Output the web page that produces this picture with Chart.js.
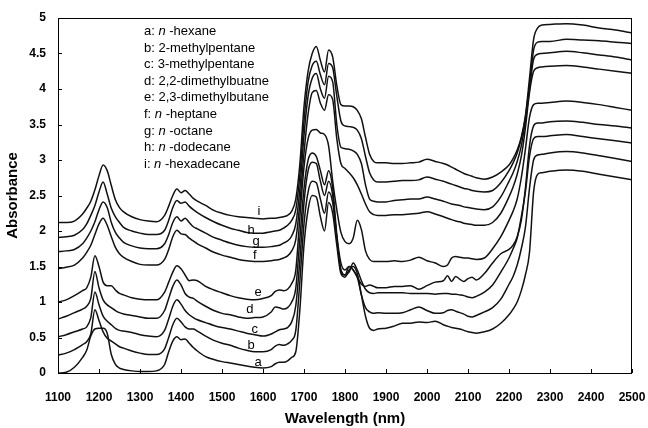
<!DOCTYPE html>
<html>
<head>
<meta charset="utf-8">
<script src="https://cdn.jsdelivr.net/npm/chart.js@4.4.1/dist/chart.umd.min.js"></script>
<style>
  html, body { margin: 0; padding: 0; background: #fff; }
  #wrap { width: 648px; height: 428px; }
</style>
</head>
<body>
<div id="wrap"><canvas id="spectra" width="648" height="428"></canvas></div>
<script>
// NIR absorbance spectra of C6-C16 alkanes, stacked with an offset per compound
const wavelength = [
  1100, 1120, 1140, 1160, 1170, 1180, 1190, 1200, 1210, 1220, 1230, 1240, 1250, 1260,
  1280, 1300, 1320, 1340, 1360, 1370, 1380, 1390, 1400, 1410, 1420, 1430, 1440,
  1460, 1480, 1500, 1520, 1540, 1560, 1580, 1600, 1620,
  1630, 1640, 1650, 1660, 1670, 1680, 1690, 1700, 1710, 1720, 1730, 1740, 1750, 1760, 1770, 1780,
  1790, 1800, 1810, 1820, 1830, 1840, 1850, 1860, 1870, 1880,
  1900, 1920, 1940, 1960, 1980, 2000, 2020, 2040, 2050, 2060, 2070, 2080, 2090, 2100, 2110, 2120,
  2140, 2160, 2180, 2200,
  2210, 2220, 2230, 2240, 2250, 2260, 2270, 2280,
  2300, 2340, 2380, 2420, 2460, 2500
];

const hexane = [
  0.00, 0.01, 0.08, 0.22, 0.32, 0.52, 0.62, 0.63, 0.63, 0.56, 0.26, 0.12, 0.07, 0.05,
  0.03, 0.02, 0.02, 0.03, 0.12, 0.30, 0.45, 0.51, 0.47, 0.48, 0.42, 0.36, 0.31,
  0.23, 0.19, 0.16, 0.14, 0.12, 0.10, 0.08, 0.07, 0.09,
  0.13, 0.15, 0.15, 0.17, 0.22, 0.30, 0.90, 1.80, 2.30, 2.50, 2.48, 2.20, 2.00, 2.40, 2.25, 1.80,
  1.40, 1.35, 1.45, 1.50, 1.40, 1.10, 0.80, 0.63, 0.60, 0.62,
  0.63, 0.66, 0.70, 0.70, 0.72, 0.71, 0.73, 0.68, 0.66, 0.64, 0.63, 0.62, 0.60, 0.58, 0.57, 0.56,
  0.58, 0.62, 0.70, 0.82,
  0.90, 1.00, 1.16, 1.38, 1.70, 2.55, 2.80, 2.82,
  2.84, 2.86, 2.84, 2.80, 2.76, 2.72
];
const methylpentane2 = [
  0.25, 0.28, 0.33, 0.40, 0.44, 0.55, 0.89, 0.74, 0.58, 0.49, 0.45, 0.41, 0.37, 0.35,
  0.31, 0.28, 0.26, 0.26, 0.34, 0.50, 0.68, 0.77, 0.72, 0.65, 0.62, 0.62, 0.59,
  0.52, 0.46, 0.42, 0.39, 0.35, 0.32, 0.30, 0.30, 0.33,
  0.38, 0.40, 0.39, 0.41, 0.46, 0.60, 1.30, 2.10, 2.55, 2.70, 2.68, 2.45, 2.25, 2.55, 2.40, 1.90,
  1.45, 1.38, 1.50, 1.45, 1.35, 1.10, 0.92, 0.86, 0.84, 0.85,
  0.84, 0.84, 0.85, 0.89, 0.93, 0.88, 0.84, 0.85, 0.88, 0.89, 0.87, 0.85, 0.83, 0.80, 0.79, 0.81,
  0.86, 0.92, 1.04, 1.25,
  1.36, 1.52, 1.75, 2.05, 2.60, 3.00, 3.07, 3.08,
  3.10, 3.12, 3.10, 3.06, 3.02, 2.98
];
const methylpentane3 = [
  0.51, 0.54, 0.58, 0.62, 0.65, 0.78, 1.14, 0.96, 0.80, 0.73, 0.68, 0.63, 0.60, 0.59,
  0.57, 0.54, 0.52, 0.51, 0.60, 0.76, 0.94, 1.03, 0.97, 0.88, 0.82, 0.78, 0.75,
  0.71, 0.67, 0.64, 0.62, 0.59, 0.56, 0.54, 0.52, 0.55,
  0.58, 0.61, 0.62, 0.64, 0.72, 0.95, 1.60, 2.40, 2.85, 2.97, 2.95, 2.70, 2.50, 2.70, 2.50, 1.90,
  1.45, 1.38, 1.42, 1.55, 1.45, 1.30, 1.18, 1.13, 1.12, 1.13,
  1.13, 1.13, 1.13, 1.12, 1.12, 1.12, 1.11, 1.12, 1.12, 1.11, 1.11, 1.10, 1.09, 1.07, 1.06, 1.08,
  1.14, 1.24, 1.42, 1.62,
  1.75, 1.90, 2.20, 2.55, 3.05, 3.30, 3.33, 3.33,
  3.34, 3.36, 3.33, 3.30, 3.27, 3.24
];
const dimethylbutane22 = [
  0.76, 0.80, 0.85, 0.90, 0.94, 1.05, 1.43, 1.20, 1.03, 0.96, 0.92, 0.88, 0.85, 0.83,
  0.81, 0.79, 0.77, 0.77, 0.88, 1.05, 1.22, 1.31, 1.24, 1.12, 1.07, 1.05, 1.01,
  0.94, 0.88, 0.84, 0.82, 0.79, 0.77, 0.78, 0.79, 0.86,
  0.93, 0.92, 0.90, 0.92, 1.00, 1.20, 1.90, 2.60, 3.00, 3.10, 3.05, 2.85, 2.65, 2.85, 2.60, 1.95,
  1.55, 1.45, 1.50, 1.45, 1.35, 1.25, 1.22, 1.24, 1.22, 1.20,
  1.20, 1.22, 1.22, 1.23, 1.18, 1.23, 1.28, 1.30, 1.37, 1.29, 1.36, 1.32, 1.29, 1.33, 1.35, 1.31,
  1.40, 1.55, 1.68, 1.74,
  1.80, 1.92, 2.15, 2.60, 3.20, 3.48, 3.52, 3.52,
  3.54, 3.55, 3.53, 3.50, 3.48, 3.45
];
const dimethylbutane23 = [
  1.00, 1.03, 1.09, 1.16, 1.20, 1.35, 1.65, 1.50, 1.28, 1.23, 1.23, 1.17, 1.12, 1.10,
  1.06, 1.04, 1.03, 1.03, 1.14, 1.28, 1.42, 1.51, 1.47, 1.38, 1.30, 1.31, 1.30,
  1.22, 1.17, 1.13, 1.09, 1.06, 1.04, 1.03, 1.05, 1.09,
  1.15, 1.17, 1.16, 1.18, 1.26, 1.45, 2.20, 2.90, 3.30, 3.42, 3.43, 3.38, 3.36, 3.20, 2.70, 2.30,
  1.98, 1.85, 1.82, 1.90, 2.15, 2.02, 1.72, 1.60, 1.57, 1.57,
  1.57, 1.58, 1.57, 1.59, 1.63, 1.58, 1.55, 1.50, 1.52, 1.62, 1.64, 1.63, 1.62, 1.62, 1.61, 1.60,
  1.62, 1.75, 1.92, 2.15,
  2.28, 2.45, 2.75, 3.15, 3.60, 3.78, 3.80, 3.80,
  3.81, 3.83, 3.81, 3.78, 3.74, 3.70
];
const heptane = [
  1.47, 1.49, 1.52, 1.62, 1.70, 1.80, 1.95, 2.10, 2.18, 2.08, 1.92, 1.77, 1.68, 1.63,
  1.57, 1.53, 1.52, 1.52, 1.60, 1.74, 1.92, 2.01, 1.96, 1.95, 1.90, 1.86, 1.82,
  1.76, 1.70, 1.66, 1.63, 1.60, 1.58, 1.57, 1.57, 1.58,
  1.59, 1.60, 1.62, 1.65, 1.72, 1.88, 2.40, 3.10, 3.65, 3.95, 3.98, 3.80, 3.70, 3.92, 3.85, 3.30,
  2.95, 2.88, 2.82, 2.75, 2.65, 2.52, 2.38, 2.27, 2.23, 2.22,
  2.22, 2.23, 2.23, 2.24, 2.25, 2.27, 2.24, 2.20, 2.18, 2.16, 2.14, 2.13, 2.11, 2.10, 2.09, 2.08,
  2.08, 2.12, 2.25, 2.48,
  2.62, 2.80, 3.05, 3.45, 3.95, 4.25, 4.30, 4.31,
  4.32, 4.33, 4.31, 4.28, 4.25, 4.22
];
const octane = [
  1.71, 1.72, 1.74, 1.82, 1.90, 2.00, 2.13, 2.30, 2.41, 2.33, 2.12, 1.98, 1.90, 1.84,
  1.79, 1.76, 1.75, 1.75, 1.82, 1.95, 2.12, 2.20, 2.14, 2.18, 2.12, 2.06, 2.03,
  1.97, 1.91, 1.87, 1.83, 1.80, 1.78, 1.77, 1.77, 1.78,
  1.79, 1.80, 1.83, 1.86, 1.93, 2.10, 2.60, 3.35, 3.90, 4.15, 4.22, 4.00, 3.87, 4.18, 4.10, 3.50,
  3.18, 3.16, 3.15, 3.13, 3.08, 2.95, 2.65, 2.45, 2.42, 2.41,
  2.41, 2.43, 2.44, 2.45, 2.45, 2.48, 2.45, 2.42, 2.40, 2.38, 2.37, 2.36, 2.34, 2.33, 2.32, 2.31,
  2.30, 2.34, 2.48, 2.70,
  2.82, 2.98, 3.20, 3.55, 4.00, 4.42, 4.49, 4.50,
  4.51, 4.53, 4.51, 4.48, 4.45, 4.41
];
const dodecane = [
  1.91, 1.92, 1.94, 2.02, 2.10, 2.22, 2.36, 2.55, 2.69, 2.52, 2.32, 2.20, 2.12, 2.05,
  2.00, 1.97, 1.95, 1.95, 2.01, 2.15, 2.33, 2.43, 2.39, 2.41, 2.35, 2.30, 2.26,
  2.19, 2.13, 2.08, 2.04, 2.01, 1.98, 1.97, 1.97, 1.99,
  2.00, 2.01, 2.04, 2.08, 2.15, 2.30, 2.80, 3.55, 4.10, 4.33, 4.39, 4.20, 4.06, 4.36, 4.30, 3.90,
  3.55, 3.48, 3.47, 3.46, 3.42, 3.30, 3.05, 2.82, 2.72, 2.69,
  2.69, 2.70, 2.71, 2.71, 2.72, 2.76, 2.73, 2.70, 2.68, 2.66, 2.64, 2.62, 2.60, 2.59, 2.57, 2.56,
  2.55, 2.57, 2.68, 2.85,
  2.96, 3.10, 3.30, 3.60, 4.05, 4.55, 4.66, 4.67,
  4.67, 4.70, 4.69, 4.68, 4.66, 4.64
];
const hexadecane = [
  2.12, 2.12, 2.14, 2.24, 2.32, 2.42, 2.58, 2.78, 2.93, 2.85, 2.64, 2.44, 2.33, 2.27,
  2.20, 2.16, 2.14, 2.13, 2.22, 2.35, 2.50, 2.59, 2.54, 2.57, 2.52, 2.46, 2.42,
  2.36, 2.29, 2.25, 2.22, 2.20, 2.19, 2.18, 2.17, 2.18,
  2.18, 2.19, 2.20, 2.22, 2.28, 2.45, 2.95, 3.75, 4.25, 4.50, 4.60, 4.40, 4.24, 4.55, 4.45, 4.05,
  3.78, 3.76, 3.76, 3.75, 3.70, 3.58, 3.32, 3.08, 2.98, 2.96,
  2.96, 2.95, 2.95, 2.96, 2.97, 3.01, 2.98, 2.95, 2.93, 2.90, 2.87, 2.84, 2.81, 2.79, 2.77, 2.75,
  2.73, 2.76, 2.83, 2.93,
  3.02, 3.14, 3.32, 3.62, 4.15, 4.70, 4.86, 4.90,
  4.91, 4.92, 4.90, 4.86, 4.83, 4.79
];

const series = [hexane, methylpentane2, methylpentane3, dimethylbutane22, dimethylbutane23,
                heptane, octane, dodecane, hexadecane];
const letters = ['a', 'b', 'c', 'd', 'e', 'f', 'g', 'h', 'i'];
const compounds = [
  ['', 'n', ' -hexane'],
  ['2-methylpentane'],
  ['3-methylpentane'],
  ['2,2-dimethylbuatne'],
  ['2,3-dimethylbutane'],
  ['', 'n', ' -heptane'],
  ['', 'n', ' -octane'],
  ['', 'n', ' -dodecane'],
  ['', 'n', ' -hexadecane']
];
// where each curve letter sits (nm, absorbance)
const letterAt = [
  [1588, 0.15], [1571, 0.39], [1580, 0.61], [1568, 0.89], [1588, 1.14],
  [1580, 1.65], [1583, 1.86], [1571, 2.01], [1590, 2.28]
];

const FONT = "'Liberation Sans', Arial, sans-serif";

const frameAndMarks = {
  id: 'frameAndMarks',
  afterDraw(chart) {
    const { ctx, chartArea: a, scales: { x, y } } = chart;
    ctx.save();
    ctx.strokeStyle = '#000';
    ctx.lineWidth = 1;
    ctx.strokeRect(a.left + 0.5, a.top + 0.5, a.right - a.left - 1, a.bottom - a.top);

    // short inward ticks
    ctx.beginPath();
    for (let v = 1100; v <= 2500; v += 100) {
      const px = Math.round(x.getPixelForValue(v)) + 0.5;
      ctx.moveTo(px, a.bottom);
      ctx.lineTo(px, a.bottom - 4);
    }
    for (let v = 0; v <= 5; v += 0.5) {
      const py = Math.round(y.getPixelForValue(v)) + 0.5;
      ctx.moveTo(a.left, py);
      ctx.lineTo(a.left + 4, py);
    }
    ctx.stroke();

    // curve letters
    ctx.fillStyle = '#000';
    ctx.font = '13px ' + FONT;
    ctx.textAlign = 'center';
    ctx.textBaseline = 'middle';
    letterAt.forEach((p, i) => {
      ctx.fillText(letters[i], x.getPixelForValue(p[0]), y.getPixelForValue(p[1]));
    });

    // compound key, n- prefixes in italics
    ctx.textAlign = 'left';
    const left = 144;
    compounds.forEach((parts, i) => {
      const yy = 31.5 + i * 16.6;
      let cx = left;
      ctx.font = '13px ' + FONT;
      const head = letters[i] + ': ';
      ctx.fillText(head, cx, yy);
      cx += ctx.measureText(head).width;
      parts.forEach((t, k) => {
        ctx.font = (k === 1 ? 'italic ' : '') + '13px ' + FONT;
        ctx.fillText(t, cx, yy);
        cx += ctx.measureText(t).width;
      });
    });
    ctx.restore();
  }
};

new Chart(document.getElementById('spectra'), {
  type: 'line',
  data: {
    labels: wavelength,
    datasets: series.map((vals, i) => ({
      label: letters[i],
      data: vals.map((v, k) => ({ x: wavelength[k], y: v })),
      borderColor: '#111',
      borderWidth: 1.5,
      pointRadius: 0,
      fill: false,
      cubicInterpolationMode: 'monotone'
    }))
  },
  options: {
    responsive: false,
    animation: false,
    layout: { padding: { top: 18, right: 16, left: 0, bottom: 0 } },
    plugins: { legend: { display: false }, tooltip: { enabled: false } },
    scales: {
      x: {
        type: 'linear',
        min: 1100,
        max: 2500,
        grid: { display: false, drawTicks: false },
        border: { display: false },
        ticks: {
          stepSize: 100,
          padding: 17,
          color: '#000',
          maxRotation: 0,
          font: { family: FONT, size: 12, weight: 'bold' },
          callback: v => String(v)
        },
        title: {
          display: true,
          text: 'Wavelength (nm)',
          color: '#000',
          padding: { top: 4, bottom: 0 },
          font: { family: FONT, size: 15, weight: 'bold' }
        },
        // keep the plot box fixed; end labels may hang past it
        afterFit: s => { s.height = 55; s.paddingLeft = 0; s.paddingRight = 0; }
      },
      y: {
        min: 0,
        max: 5,
        grid: { display: false, drawTicks: false },
        border: { display: false },
        ticks: {
          stepSize: 0.5,
          padding: 12,
          color: '#000',
          font: { family: FONT, size: 12, weight: 'bold' },
          callback: v => String(v)
        },
        title: {
          display: true,
          text: 'Absorbance',
          color: '#000',
          padding: { top: 4, bottom: 0 },
          font: { family: FONT, size: 15, weight: 'bold' }
        },
        afterFit: s => { s.width = 58; s.paddingTop = 0; s.paddingBottom = 0; }
      }
    }
  },
  plugins: [frameAndMarks]
});
</script>
</body>
</html>
